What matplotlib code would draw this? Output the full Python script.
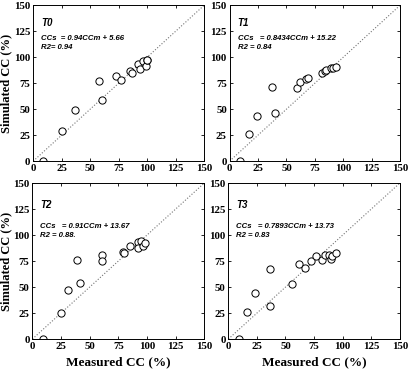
import matplotlib
matplotlib.use("Agg")
import matplotlib.pyplot as plt

# measured vs simulated canopy cover
t0_meas = [9, 25, 37, 58, 60, 73, 77, 85, 87, 92, 94, 96, 99, 100, 100]
t0_sim = [0, 29, 49, 77, 59, 82, 78, 87, 85, 93, 89, 96, 92, 97, 97]

t1_meas = [9, 17, 24, 37, 40, 59, 62, 67, 69, 81, 84, 85, 89, 91, 94]
t1_sim = [0, 26, 43, 71, 46, 70, 76, 79, 80, 85, 87, 88, 90, 90, 91]

t2_meas = [9, 25, 31, 39, 42, 61, 61, 79, 80, 85, 92, 92, 95, 97, 98]
t2_sim = [0, 25, 47, 76, 54, 81, 75, 84, 83, 90, 93, 88, 94, 90, 92]

t3_meas = [9, 16, 23, 36, 36, 56, 62, 67, 72, 77, 82, 85, 88, 90, 91, 94]
t3_sim = [0, 26, 44, 67, 32, 53, 72, 68, 75, 80, 76, 81, 81, 77, 80, 83]

names = ["T0", "T1", "T2", "T3"]
equations = ["CCs  = 0.94CCm + 5.66", "CCs   = 0.8434CCm + 15.22",
             "CCs   = 0.91CCm + 13.67", "CCs   = 0.7893CCm + 13.73"]
r2_texts = ["R2= 0.94", "R2 = 0.84", "R2 = 0.88.", "R2 = 0.83"]
ticks = [0, 25, 50, 75, 100, 125, 150]

serif = "Liberation Serif"
sans = "Liberation Sans"

fig = plt.figure(figsize=(4.10, 3.73), dpi=100)

# axes boxes in figure fractions
boxes = [
    [0.081, 0.568, 0.417, 0.418],
    [0.560, 0.568, 0.416, 0.418],
    [0.079, 0.091, 0.419, 0.418],
    [0.557, 0.091, 0.418, 0.418],
]
data = [(t0_meas, t0_sim), (t1_meas, t1_sim), (t2_meas, t2_sim), (t3_meas, t3_sim)]
label_y = [(130, 117, 108), (130, 117, 108), (126, 107, 98), (126, 107, 98)]

for i, ax_box in enumerate(boxes):
    ax = fig.add_axes(ax_box)
    x, y = data[i]
    ax.plot([0, 150], [0, 150], linestyle=":", color="0.45", lw=0.8)
    ax.plot(x, y, "o", mfc="white", mec="black", ms=5.2, mew=0.7)
    ax.set_xlim(0, 150)
    ax.set_ylim(0, 150)
    ax.set_xticks(ticks)
    ax.set_yticks(ticks)
    ax.tick_params(direction="in", top=True, right=True, length=2, width=0.6, pad=2)
    for lab in ax.get_xticklabels() + ax.get_yticklabels():
        lab.set_fontfamily(serif)
        lab.set_fontweight("bold")
        lab.set_fontsize(7.8)
    for sp in ax.spines.values():
        sp.set_linewidth(0.7)

    ty, ey, ry = label_y[i]
    ax.text(7, ty, names[i], fontfamily=sans, fontweight="bold", fontstyle="italic", fontsize=7)
    ax.text(7, ey, equations[i], fontfamily=sans, fontweight="bold", fontstyle="italic", fontsize=5.6)
    ax.text(7, ry, r2_texts[i], fontfamily=sans, fontweight="bold", fontstyle="italic", fontsize=5.6)

    if i % 2 == 0:
        ax.set_ylabel("Simulated CC (%)", fontfamily=serif, fontweight="bold", fontsize=9, labelpad=1)
    if i >= 2:
        ax.set_xlabel("Measured CC (%)", fontfamily=serif, fontweight="bold", fontsize=9.5, labelpad=4)

fig.savefig("out.png", dpi=100)
